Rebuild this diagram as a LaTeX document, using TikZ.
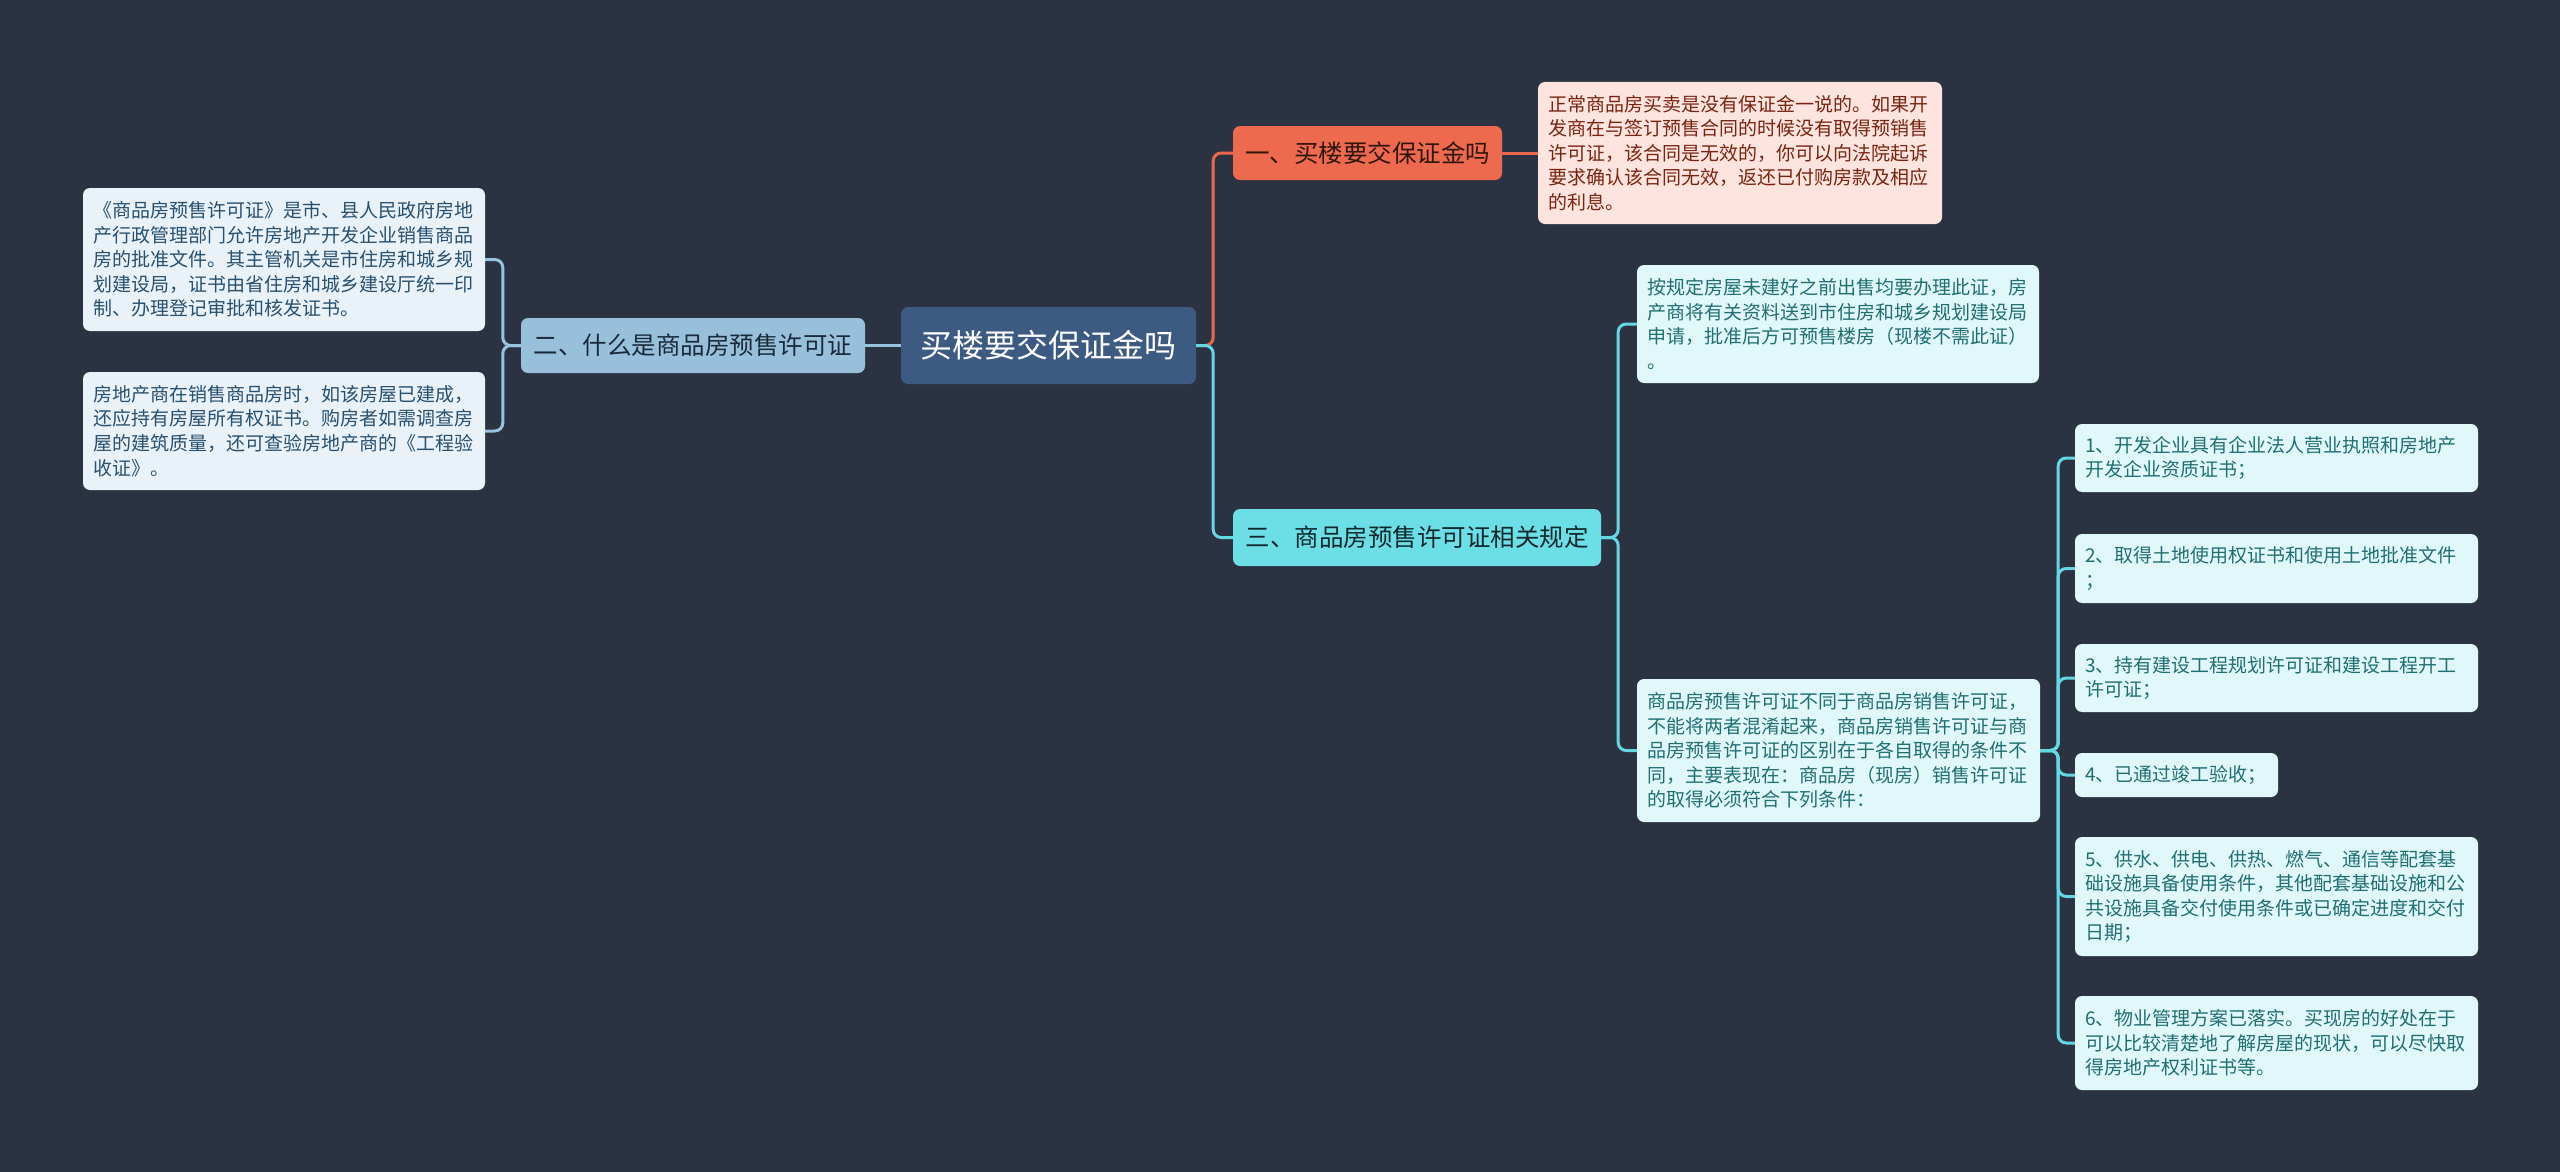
\documentclass[tikz,border=0pt]{standalone}
\usepackage{fontspec}
\setmainfont{Noto Sans CJK SC}
\definecolor{bg}{RGB}{43,51,66}
\definecolor{rootfill}{RGB}{60,90,130}
\definecolor{twofill}{RGB}{152,192,218}
\definecolor{onefill}{RGB}{238,106,78}
\definecolor{onechild}{RGB}{253,228,222}
\definecolor{threefill}{RGB}{108,222,230}
\definecolor{cyanleaf}{RGB}{225,248,250}
\definecolor{blueleaf}{RGB}{233,242,249}
\definecolor{twotext}{RGB}{26,42,58}
\definecolor{onetext}{RGB}{48,22,14}
\definecolor{onechildtext}{RGB}{122,36,16}
\definecolor{threetext}{RGB}{16,40,44}
\definecolor{cyantext}{RGB}{31,111,115}
\definecolor{bluetext}{RGB}{40,80,112}
\definecolor{lineblue}{RGB}{150,195,222}
\definecolor{linecoral}{RGB}{232,105,75}
\definecolor{linecyan}{RGB}{100,215,228}
\tikzset{
  base/.style={rectangle, rounded corners=7pt, inner ysep=0pt, anchor=center},
  topic/.style={base, font=\fontsize{24.5}{30}\selectfont, inner xsep=0pt, align=center},
  leaf/.style={base, font=\fontsize{19}{24.6}\selectfont, inner xsep=10pt, align=left},
  conn/.style={line width=3pt, rounded corners=8pt},
}
\begin{document}
\begin{tikzpicture}[x=1pt,y=-1pt]
\useasboundingbox (0,0) rectangle (2560,1172);
\fill[bg] (0,0) rectangle (2560,1172);

% root
\node[base, fill=rootfill, text=white, font=\fontsize{32}{38}\selectfont,
  minimum width=295pt, minimum height=77pt] (root) at (1048.5,345.5) {买楼要交保证金吗};

% main topics
\node[topic, fill=twofill, text=twotext, minimum width=344pt, minimum height=55pt]
  (two) at (693,345.5) {二、什么是商品房预售许可证};
\node[topic, fill=onefill, text=onetext, minimum width=269pt, minimum height=54pt]
  (one) at (1367.5,153) {一、买楼要交保证金吗};
\node[topic, fill=threefill, text=threetext, minimum width=368pt, minimum height=57pt]
  (three) at (1417,537.5) {三、商品房预售许可证相关规定};

% branch one child
\node[leaf, fill=onechild, text=onechildtext, text width=384pt, minimum height=142pt]
  (onec) at (1740,153) {正常商品房买卖是没有保证金一说的。如果开\\发商在与签订预售合同的时候没有取得预销售\\许可证，该合同是无效的，你可以向法院起诉\\要求确认该合同无效，返还已付购房款及相应\\的利息。};

% left leaves
\node[leaf, fill=blueleaf, text=bluetext, text width=382pt, minimum height=143pt]
  (l1) at (284,259.5) {《商品房预售许可证》是市、县人民政府房地\\产行政管理部门允许房地产开发企业销售商品\\房的批准文件。其主管机关是市住房和城乡规\\划建设局，证书由省住房和城乡建设厅统一印\\制、办理登记审批和核发证书。};
\node[leaf, fill=blueleaf, text=bluetext, text width=382pt, minimum height=118pt]
  (l2) at (284,431) {房地产商在销售商品房时，如该房屋已建成，\\还应持有房屋所有权证书。购房者如需调查房\\屋的建筑质量，还可查验房地产商的《工程验\\收证》。};

% branch three children
\node[leaf, fill=cyanleaf, text=cyantext, text width=382pt, minimum height=118pt]
  (ca) at (1838,324) {按规定房屋未建好之前出售均要办理此证，房\\产商将有关资料送到市住房和城乡规划建设局\\申请，批准后方可预售楼房（现楼不需此证）\\。};
\node[leaf, fill=cyanleaf, text=cyantext, text width=383pt, minimum height=143pt]
  (cb) at (1838.5,750.5) {商品房预售许可证不同于商品房销售许可证，\\不能将两者混淆起来，商品房销售许可证与商\\品房预售许可证的区别在于各自取得的条件不\\同，主要表现在：商品房（现房）销售许可证\\的取得必须符合下列条件：};

% items
\node[leaf, fill=cyanleaf, text=cyantext, text width=383pt, minimum height=68pt]
  (i1) at (2276.5,458) {1、开发企业具有企业法人营业执照和房地产\\开发企业资质证书；};
\node[leaf, fill=cyanleaf, text=cyantext, text width=383pt, minimum height=69pt]
  (i2) at (2276.5,568.5) {2、取得土地使用权证书和使用土地批准文件\\；};
\node[leaf, fill=cyanleaf, text=cyantext, text width=383pt, minimum height=68pt]
  (i3) at (2276.5,678) {3、持有建设工程规划许可证和建设工程开工\\许可证；};
\node[leaf, fill=cyanleaf, text=cyantext, text width=183pt, minimum height=44pt]
  (i4) at (2176.5,775) {4、已通过竣工验收；};
\node[leaf, fill=cyanleaf, text=cyantext, text width=383pt, minimum height=119pt]
  (i5) at (2276.5,896.5) {5、供水、供电、供热、燃气、通信等配套基\\础设施具备使用条件，其他配套基础设施和公\\共设施具备交付使用条件或已确定进度和交付\\日期；};
\node[leaf, fill=cyanleaf, text=cyantext, text width=383pt, minimum height=94pt]
  (i6) at (2276.5,1043) {6、物业管理方案已落实。买现房的好处在于\\可以比较清楚地了解房屋的现状，可以尽快取\\得房地产权利证书等。};

% connectors
\begin{scope}[on background layer/.style={}]
\draw[conn, lineblue] (root.west) -- (two.east);
\draw[conn, lineblue] (two.west) -- ++(-18,0) |- (l1.east);
\draw[conn, lineblue] (two.west) -- ++(-18,0) |- (l2.east);
\draw[conn, linecoral] (root.east) -- ++(17,0) |- (one.west);
\draw[conn, linecyan] (root.east) -- ++(17,0) |- (three.west);
\draw[conn, linecoral] (one.east) -- (onec.west);
\draw[conn, linecyan] (three.east) -- ++(17,0) |- (ca.west);
\draw[conn, linecyan] (three.east) -- ++(17,0) |- (cb.west);
\draw[conn, linecyan] (cb.east) -- ++(18,0) |- (i1.west);
\draw[conn, linecyan] (cb.east) -- ++(18,0) |- (i2.west);
\draw[conn, linecyan] (cb.east) -- ++(18,0) |- (i3.west);
\draw[conn, linecyan] (cb.east) -- ++(18,0) |- (i4.west);
\draw[conn, linecyan] (cb.east) -- ++(18,0) |- (i5.west);
\draw[conn, linecyan] (cb.east) -- ++(18,0) |- (i6.west);
\end{scope}
\end{tikzpicture}
\end{document}
